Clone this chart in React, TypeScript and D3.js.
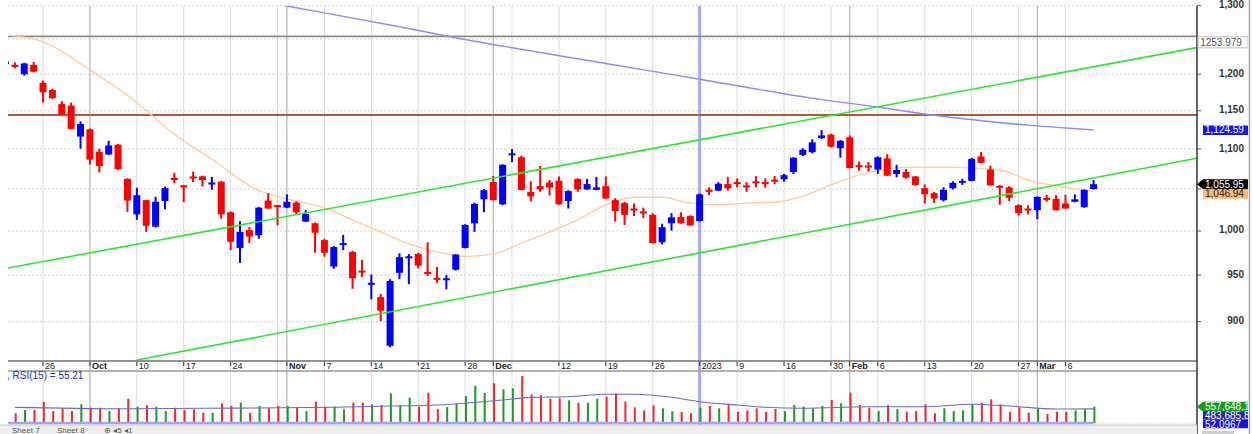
import React from 'react';
import * as d3 from 'd3';

// daily sessions, oldest first (index 0 is clipped at the left edge)
const opens = [
  1214, 1213, 1200, 1213, 1188, 1178, 1159, 1157, 1116, 1125.5,
  1096.5, 1093, 1105.5, 1062.5, 1019.5, 1036.5, 1005, 1035.5, 1063.5, 1054.5,
  1065.5, 1065.5, 1057, 1059, 1022, 980.5, 1001, 995, 1036, 1030.5,
  1027.5, 1033.5, 1011, 1009, 989.5, 959.5, 985, 976, 955, 940.5,
  926, 875, 952.5, 969.5, 973.5, 953.5, 947, 945, 956, 980.5,
  1009, 1037.5, 1058.5, 1031.5, 1093.5, 1089.5, 1046.5, 1053.5, 1058, 1060,
  1035.5, 1062.5, 1049.5, 1049, 1053.5, 1036.5, 1033, 1026.5, 1023, 1019,
  987, 1009, 1016.5, 1017.5, 1011.5, 1049, 1048, 1056, 1058.5, 1054.5,
  1059.5, 1058.5, 1061.5, 1062, 1071, 1092.5, 1096, 1114, 1118.5, 1101,
  1115, 1079.5, 1079, 1074, 1088, 1068.5, 1071, 1065.5, 1051, 1045,
  1036.5, 1051, 1059, 1060, 1090.5, 1074, 1054, 1052, 1030.5, 1026.5,
  1024.5, 1039, 1038, 1032.5, 1034.5, 1028, 1050,
];
const highs = [
  1220, 1216.5, 1216, 1217, 1191, 1180, 1163, 1161, 1136, 1126.5,
  1100.5, 1110.5, 1106.5, 1063, 1051.5, 1037, 1040.5, 1053, 1070, 1055,
  1071.5, 1066.5, 1065, 1060, 1023, 1011.5, 1004.5, 1028.5, 1045, 1031,
  1043.5, 1035, 1024.5, 1010, 991, 982.5, 995.5, 977, 967, 950.5,
  929.5, 945.5, 974.5, 973.5, 975, 987, 959, 950, 973.5, 1008,
  1033.5, 1050, 1066, 1080.5, 1100, 1091.5, 1059.5, 1078.5, 1061, 1065.5,
  1048.5, 1063, 1062.5, 1065, 1065.5, 1039, 1034.5, 1032.5, 1027.5, 1021,
  1008.5, 1021, 1022, 1018.5, 1044.5, 1052, 1058.5, 1065, 1063, 1058.5,
  1066, 1063, 1066, 1068.5, 1089.5, 1101, 1112.5, 1124.5, 1119.5, 1111.5,
  1117.5, 1084, 1083.5, 1090.5, 1093.5, 1080, 1074.5, 1066, 1055.5, 1046.5,
  1052, 1059.5, 1062.5, 1088.5, 1096, 1079, 1055, 1053.5, 1031.5, 1030.5,
  1041, 1043, 1042.5, 1043, 1043.5, 1049.5, 1061,
];
const lows = [
  1213, 1208, 1198, 1202.5, 1161, 1166, 1144.5, 1125.5, 1100.5, 1080.5,
  1070.5, 1092.5, 1073.5, 1022.5, 1013, 999, 1004, 1025.5, 1057, 1034,
  1058.5, 1053, 1049, 1014.5, 978, 963.5, 986, 991, 1026, 1006.5,
  1027, 1019, 1010.5, 975, 970.5, 957, 978, 935, 948, 923.5,
  900.5, 873.5, 945.5, 940, 957.5, 949, 941.5, 934.5, 955, 980,
  999, 1022, 1036, 1030.5, 1083.5, 1048.5, 1035, 1046.5, 1042, 1031,
  1026.5, 1046.5, 1049, 1048.5, 1038, 1011, 1007, 1017.5, 1015, 985.5,
  984.5, 1000.5, 1008.5, 1006, 1011, 1042.5, 1047.5, 1048, 1052, 1046.5,
  1052, 1051.5, 1056, 1059, 1068.5, 1091, 1094.5, 1113, 1102, 1089,
  1075.5, 1072.5, 1071.5, 1068.5, 1066, 1064.5, 1063, 1054, 1032.5, 1033,
  1035, 1049.5, 1055, 1059.5, 1082, 1054, 1031, 1035.5, 1018, 1019.5,
  1014, 1034.5, 1024, 1026, 1034, 1027.5, 1049.5,
];
const closes = [
  1218, 1211.5, 1215, 1203.5, 1175, 1167, 1145, 1126, 1132.5, 1086.5,
  1078.5, 1104.5, 1074.5, 1036, 1042.5, 1006, 1034.5, 1051, 1062, 1053,
  1064, 1061, 1058, 1019.5, 987.5, 999, 993.5, 1027.5, 1026.5, 1029.5,
  1034.5, 1022, 1020, 998, 975, 981.5, 986, 946.5, 954, 941.5,
  911.5, 943.5, 970, 971, 960.5, 952.5, 946, 946.5, 973, 1007,
  1032, 1048.5, 1036.5, 1080, 1094.5, 1049, 1041, 1049.5, 1052, 1031.5,
  1047.5, 1049.5, 1056, 1052, 1038.5, 1023.5, 1019, 1025.5, 1022, 986,
  1004.5, 1016, 1009, 1006.5, 1043.5, 1048, 1056.5, 1051, 1057.5, 1053.5,
  1058.5, 1058, 1060.5, 1067, 1089, 1099, 1108.5, 1117.5, 1103, 1110.5,
  1076, 1078.5, 1078, 1089.5, 1066.5, 1073.5, 1064, 1055, 1043.5, 1038.5,
  1049, 1057.5, 1060, 1087.5, 1082.5, 1054.5, 1053, 1039.5, 1021, 1025.5,
  1040.5, 1038.5, 1024.5, 1026.5, 1037.5, 1049, 1055.95,
];
// volume, millions
const volumes = [
  400, 336, 447, 447, 726, 413, 504, 413, 638, 524,
  524, 413, 504, 826, 558, 605, 558, 413, 524, 447,
  470, 356, 356, 672, 581, 692, 356, 581, 524, 581,
  581, 524, 413, 726, 558, 558, 470, 692, 692, 638,
  615, 1008, 615, 860, 558, 1028, 480, 548, 648, 917,
  1263, 1018, 1344, 1142, 1176, 1589, 974, 941, 826, 840,
  773, 692, 692, 826, 894, 1008, 726, 537, 437, 605,
  504, 403, 380, 336, 524, 581, 504, 638, 390, 437,
  504, 390, 480, 413, 615, 558, 504, 581, 783, 672,
  1028, 615, 524, 413, 615, 480, 390, 413, 638, 336,
  504, 413, 437, 638, 692, 806, 638, 390, 537, 356,
  480, 312, 390, 390, 437, 480, 557.6,
];

// moving averages: [session index, value]
const maShort: [number, number][] = [
  [0, 1256], [4, 1246], [9, 1206], [13, 1171], [18, 1119], [22, 1087], [27, 1048],
  [30, 1038], [34, 1027], [38, 1008], [40, 999], [43, 985], [46, 976], [49, 971],
  [52, 973.5], [55, 986], [58, 999], [61, 1013], [64, 1031], [67, 1040], [70, 1040],
  [73, 1033], [76, 1031], [79, 1033], [82, 1034], [85, 1041.5], [88, 1055], [91, 1067],
  [94, 1074.5], [97, 1077], [100, 1077], [103, 1076], [106, 1073.5], [109, 1061],
  [112, 1054], [116, 1046.94],
];
const maLong: [number, number][] = [
  [26, 1309.5], [30, 1299], [42, 1268], [47, 1254.5], [64, 1215], [74, 1193],
  [87, 1165], [93, 1155], [99, 1144], [105, 1135.5], [110, 1130], [116, 1124.59],
];
const volMa: [number, number][] = [
  [1, 537], [12, 490], [21, 504], [35, 537], [41, 581], [46, 615], [49, 672], [53, 783],
  [56, 873], [60, 894], [64, 974], [67, 974], [71, 873], [74, 726], [78, 615], [81, 537],
  [85, 504], [92, 558], [98, 558], [103, 638], [107, 581], [112, 480], [116, 483.7],
];
const channelTop: [number, number][] = [[0, 957.3], [127, 1237.6]];
const channelBottom: [number, number][] = [[14, 860.7], [127, 1088.2]];
const resistance = 1144.4;
const peakLevel = 1253.979;

const tickIdx = [4, 9, 14, 19, 24, 30, 34, 39, 44, 49, 52, 59, 64, 69, 74, 78, 83, 88, 90, 93, 98, 103, 108, 110, 113];
const tickText = ['26', 'Oct', '10', '17', '24', 'Nov', '7', '14', '21', '28', 'Dec', '12', '19', '26', '2023', '9', '16', '30', 'Feb', '6', '13', '20', '27', 'Mar', '6'];
const weekLines = [4, 14, 19, 24, 29, 34, 39, 44, 49, 54, 59, 64, 69, 78, 83, 88, 93, 98, 103, 108, 113];
const monthLines = [9, 30, 52, 90, 110];
const yearLine = 74;
const priceGrid = [900, 950, 1000, 1050, 1100, 1150, 1200, 1250, 1300];
const priceLabels = [900, 950, 1000, 1100, 1150, 1200, 1300];

const FONT = '"Liberation Sans", Arial, sans-serif';
const L = 8;
const R = 1197;

export default function App() {
  const x = d3.scaleLinear().domain([0, 116]).range([5.5, 1093.6]);
  const y = d3.scaleLog().domain([860.7, 1299]).range([360, 6]);
  const yv = d3.scaleLinear().domain([0, 1600]).range([423.3, 375.7]);
  const fmt = d3.format(',');

  const straight = d3.line<[number, number]>().x((d) => x(d[0])).y((d) => y(d[1]));
  const smooth = d3.line<[number, number]>().x((d) => x(d[0])).y((d) => y(d[1])).curve(d3.curveMonotoneX);
  const volLine = d3.line<[number, number]>().x((d) => x(d[0])).y((d) => yv(d[1])).curve(d3.curveMonotoneX);

  const last = closes.length - 1;
  const yBlue = y(maLong[maLong.length - 1][1]);
  const yBlack = y(closes[last]);
  const yOrange = Math.max(y(maShort[maShort.length - 1][1]), yBlack + 9.5);
  const yVol = yv(volumes[last]);

  const arrowBox = (cy: number) =>
    `M${R},${cy} L${R + 6},${cy - 5} L1248,${cy - 5} L1248,${cy + 5} L${R + 6},${cy + 5} Z`;

  return (
    <div style={{ position: 'absolute', left: 0, top: 0 }}>
      <svg width={1253} height={434} style={{ display: 'block', fontFamily: FONT }}>
        <defs>
          <clipPath id="price">
            <rect x={L} y={6} width={R - L} height={354} />
          </clipPath>
          <clipPath id="vol">
            <rect x={L} y={372} width={R - L} height={53} />
          </clipPath>
          <clipPath id="rightLabels">
            <rect x={R} y={0} width={1248 - R} height={434} />
          </clipPath>
        </defs>
        <rect width={1253} height={434} fill="#fff" />

        {/* horizontal grid */}
        {priceGrid.map((v) => (
          <line key={v} x1={L} x2={R} y1={y(v)} y2={y(v)} stroke="#d4d4d4" strokeDasharray="2,2" />
        ))}
        {/* vertical grid */}
        {weekLines.map((i) => (
          <line key={'w' + i} x1={x(i)} x2={x(i)} y1={6} y2={424} stroke="#dcdcdc" />
        ))}
        {monthLines.map((i) => (
          <line key={'m' + i} x1={x(i)} x2={x(i)} y1={6} y2={424} stroke="#b4b4b4" strokeWidth={1.2} />
        ))}
        <line x1={x(yearLine)} x2={x(yearLine)} y1={6} y2={428} stroke="#a9a9ec" strokeWidth={3} />

        <g clipPath="url(#price)">
          <line x1={L} x2={R} y1={y(peakLevel)} y2={y(peakLevel)} stroke="#8a8a8a" strokeWidth={1.6} />
          <line x1={L} x2={R} y1={y(resistance)} y2={y(resistance)} stroke="#b25a3c" strokeWidth={2} />
          <path d={smooth(maShort) ?? ''} fill="none" stroke="#ffcc9e" strokeWidth={1.3} />
          <path d={smooth(maLong) ?? ''} fill="none" stroke="#8c8cf4" strokeWidth={1.4} />

          {opens.map((o, i) => {
            const c = closes[i];
            const col = c >= o ? '#0000ff' : '#ff0000';
            const cx = x(i);
            const top = y(Math.max(o, c));
            const h = Math.max(y(Math.min(o, c)) - top, 2);
            return (
              <g key={i}>
                <rect x={cx - 1} y={y(highs[i])} width={2} height={y(lows[i]) - y(highs[i])} fill={col} />
                <rect x={cx - 3.5} y={top} width={7} height={h} fill={col} />
              </g>
            );
          })}

          <path d={straight(channelTop) ?? ''} fill="none" stroke="#2fe62f" strokeWidth={1.6} />
          <path d={straight(channelBottom) ?? ''} fill="none" stroke="#2fe62f" strokeWidth={1.6} />
        </g>

        {/* time axis band */}
        <line x1={L} x2={R} y1={361} y2={361} stroke="#6e6e6e" strokeWidth={1.5} />
        <line x1={L} x2={R} y1={371} y2={371} stroke="#9a9a9a" strokeWidth={1.5} />
        {tickIdx.map((i, k) => {
          const bold = isNaN(Number(tickText[k]));
          return (
            <g key={'t' + i}>
              <line x1={x(i)} x2={x(i)} y1={362} y2={366} stroke="#333" />
              <text x={x(i) + 2} y={369} fontSize={9} fontWeight={bold ? 'bold' : 'normal'} fill="#222">
                {tickText[k]}
              </text>
            </g>
          );
        })}

        {/* volume panel */}
        <g clipPath="url(#vol)">
          {volumes.map((v, i) => (
            <rect
              key={i}
              x={x(i) - 0.2}
              y={yv(v)}
              width={2}
              height={yv(0) - yv(v)}
              fill={closes[i] >= opens[i] ? '#1d9a1d' : '#ff2222'}
            />
          ))}
          <path d={volLine(volMa) ?? ''} fill="none" stroke="#6a6ac8" strokeWidth={1.1} />
          <line x1={L} x2={x(last)} y1={423} y2={423} stroke="#a4a4f0" strokeWidth={2.5} />
          <line x1={x(last)} x2={R} y1={423} y2={423} stroke="#bbb" strokeDasharray="1,2" />
        </g>
        <text x={7} y={379} fontSize={10} fill="#2a2ac8">, RSI(15) = 55.21</text>

        {/* right axis */}
        <line x1={R} x2={R} y1={6} y2={434} stroke="#333" strokeWidth={1.5} />
        {priceGrid.map((v) => (
          <line key={'rt' + v} x1={R} x2={R + 4} y1={y(v)} y2={y(v)} stroke="#555" />
        ))}
        {priceLabels.map((v) => (
          <text key={'rl' + v} x={1244} y={y(v) - 1} dy="0.35em" textAnchor="end" fontSize={10} fontWeight="bold" fill="#333">
            {fmt(v)}
          </text>
        ))}

        <g clipPath="url(#rightLabels)">
          <rect x={R + 1} y={y(peakLevel) + 0.5} width={50} height={11} fill="#fff" stroke="#bdbdbd" />
          <text x={1221} y={y(peakLevel) + 6} dy="0.35em" textAnchor="middle" fontSize={10} fill="#555">
            {peakLevel}
          </text>

          <rect x={1203} y={yBlue - 4.5} width={46} height={9.5} fill="#1414f5" />
          <text x={1205} y={yBlue} dy="0.35em" fontSize={10} fill="#fff">{d3.format(',.2f')(maLong[maLong.length - 1][1])}</text>

          <path d={arrowBox(yBlack)} fill="#000" />
          <text x={1205} y={yBlack} dy="0.35em" fontSize={10} fill="#fff">{d3.format(',.2f')(closes[last])}</text>

          <rect x={1203} y={yOrange - 4.5} width={46} height={9.5} fill="#ffb66e" />
          <text x={1205} y={yOrange} dy="0.35em" fontSize={10} fill="#222">{d3.format(',.2f')(maShort[maShort.length - 1][1])}</text>

          <path d={arrowBox(yVol)} fill="#1a9a1a" />
          <text x={1205} y={yVol} dy="0.35em" fontSize={10} fill="#fff">557,648,1</text>
          <rect x={1203} y={yVol + 4.5} width={46} height={8.5} fill="#2323a2" />
          <text x={1205} y={yVol + 8.8} dy="0.35em" fontSize={10} fill="#fff">483,685,8</text>
          <rect x={1203} y={yVol + 13} width={46} height={8.5} fill="#1212ee" />
          <text x={1205} y={yVol + 17.3} dy="0.35em" fontSize={10} fill="#fff">52.0967</text>
        </g>
        <line x1={1249.5} x2={1249.5} y1={0} y2={434} stroke="#a3a3a3" strokeWidth={1.5} />

        {/* sheet tabs */}
        <rect x={0} y={425} width={R} height={9} fill="#efefef" />
        <line x1={0} x2={R} y1={425} y2={425} stroke="#c8c8c8" />
        <text x={12} y={432.5} fontSize={8} fill="#555">Sheet 7</text>
        <text x={57} y={432.5} fontSize={8} fill="#555">Sheet 8</text>
        <text x={104} y={432.5} fontSize={8} fill="#555">⊕ ◂5 ◂1</text>
        <rect x={1202} y={431} width={32} height={3} fill="#cfcfcf" />
      </svg>
    </div>
  );
}
